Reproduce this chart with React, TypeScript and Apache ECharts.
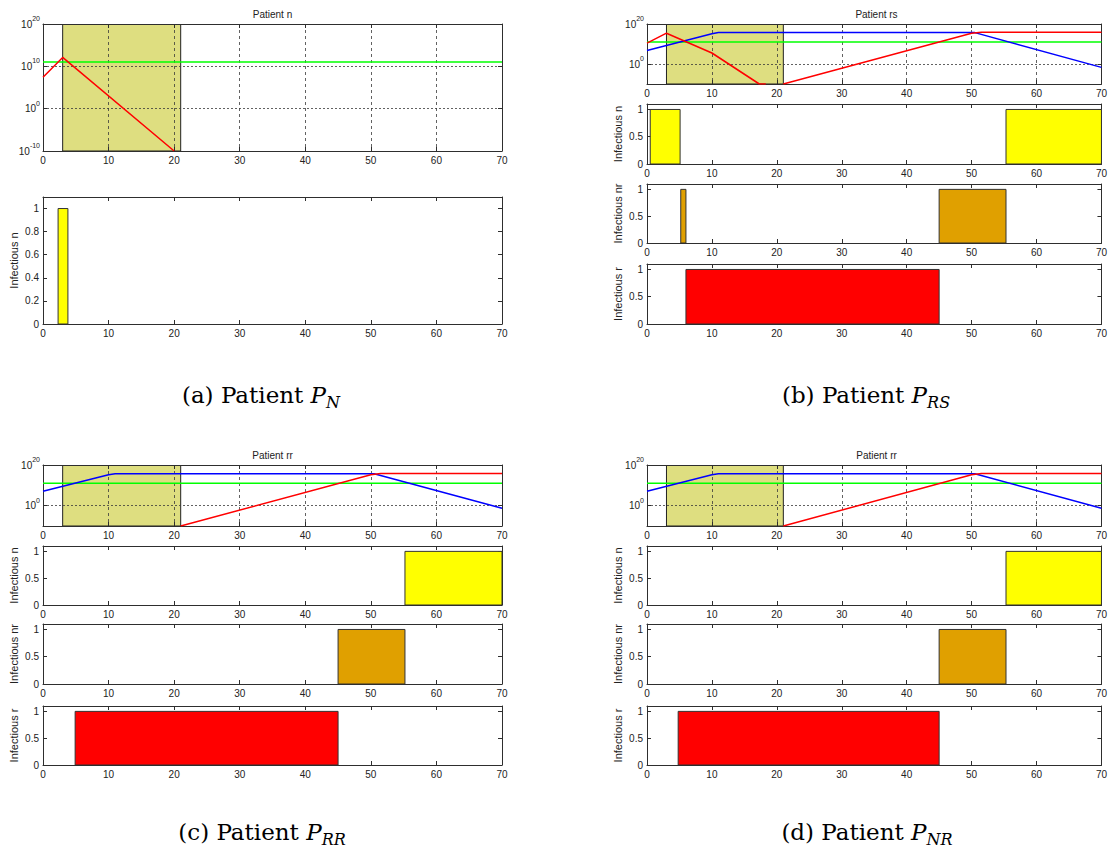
import React, { useEffect, useRef } from "react";
import * as echarts from "echarts";

// ---------- data ----------
const X_MIN = 0;
const X_MAX = 70;
const X_STEP = 10;
// treatment window (shaded)
const treatmentWindow: [number, number][] = [[3, 21]];
// thresholds / curves as log10 exponents of the quantity
const greenLevelLog = 11;

// (a) Patient n
const aTitle = "Patient n";
const aRedLog: (number | null)[][] = [[0, 7.4], [3, 12.1], [20, -10]];
const aBarsN: number[][] = [[2.3, 3.8, 1]];

// (b) Patient rs
const bTitle = "Patient rs";
const bRedLog: (number | null)[][] = [
  [0, 10.4], [3, 15.4], [10, 5.5], [17.3, -10], [18.3, -10], [19.5, null],
  [21, -10], [50, 15.4], [51.5, 15.9], [70, 15.9],
];
const bBlueLog: (number | null)[][] = [[0, 6.8], [10, 15.1], [11, 15.7], [50.5, 15.7], [70, -1.7]];
const bBarsN: number[][] = [[0.5, 5.1, 1], [55.3, 70, 1]];
const bBarsNR: number[][] = [[5.2, 6.0, 1], [45, 55.3, 1]];
const bBarsR: number[][] = [[6.0, 45, 1]];

// (c) Patient rr
const cTitle = "Patient rr";
const cRedLog: (number | null)[][] = [[21, -10], [50, 15.2], [51.5, 15.8], [70, 15.8]];
const cBlueLog: (number | null)[][] = [[0, 7.1], [10, 15.2], [11, 15.7], [50.5, 15.7], [70, -1.3]];
const cBarsN: number[][] = [[55.2, 70, 1]];
const cBarsNR: number[][] = [[45, 55.2, 1]];
const cBarsR: number[][] = [[4.9, 45, 1]];

// (d) Patient rr (P_NR)
const dTitle = "Patient rr";
const dRedLog: (number | null)[][] = [[21, -10], [50, 15.2], [51.5, 15.8], [70, 15.8]];
const dBlueLog: (number | null)[][] = [[0, 7.1], [10, 15.2], [11, 15.7], [50.5, 15.7], [70, -1.3]];
const dBarsN: number[][] = [[55.3, 70, 1]];
const dBarsNR: number[][] = [[45, 55.3, 1]];
const dBarsR: number[][] = [[4.8, 45, 1]];

const logTicksFull = [-10, 0, 10, 20];
const logTicksShort = [0, 20];

const captions = [
  { label: "(a)", sub: "N" },
  { label: "(b)", sub: "RS" },
  { label: "(c)", sub: "RR" },
  { label: "(d)", sub: "NR" },
];

// ---------- styles ----------
const FONT = "'Liberation Sans', Arial, sans-serif";
const SERIF = "'DejaVu Serif', serif";
const AXIS = "#2e2e2e";
const LABEL = "#222";
const SHADE = "#dede80";
const C_RED = "#ff0000";
const C_BLUE = "#0000ff";
const C_GREEN = "#00ff00";
const C_N = "#ffff00";
const C_NR = "#e0a000";
const C_R = "#ff0000";

type Rect = { left: number; top: number; width: number; height: number };

function buildOption() {
  const grid: any[] = [];
  const xAxis: any[] = [];
  const yAxis: any[] = [];
  const series: any[] = [];
  const graphic: any[] = [];

  const axisLine = { show: true, onZero: false, lineStyle: { color: AXIS, width: 1 } };
  const tick = { show: true, inside: true, length: 4, lineStyle: { color: AXIS, width: 1 } };
  const labelBase = { fontFamily: FONT, fontSize: 10, color: LABEL };

  const addGrid = (rect: Rect, yLeft: any, yMirror: any, xGrid: boolean) => {
    const gi = grid.length;
    grid.push({ ...rect, show: false });
    xAxis.push({
      gridIndex: gi, type: "value", position: "bottom", min: X_MIN, max: X_MAX, interval: X_STEP,
      axisLine, axisTick: tick,
      axisLabel: { ...labelBase, margin: 4 },
      splitLine: xGrid
        ? { show: true, lineStyle: { color: "#3a3a3a", type: [3, 3], width: 0.8 } }
        : { show: false },
    });
    xAxis.push({
      gridIndex: gi, type: "value", position: "top", min: X_MIN, max: X_MAX, interval: X_STEP,
      axisLine, axisTick: tick, axisLabel: { show: false }, splitLine: { show: false },
    });
    yAxis.push({ gridIndex: gi, type: "value", position: "left", axisLine, ...yLeft });
    yAxis.push({
      gridIndex: gi, type: "value", position: "right", axisLine,
      axisLabel: { show: false }, splitLine: { show: false }, ...yMirror,
    });
    return gi;
  };

  const logRich = {
    b: { ...labelBase, lineHeight: 12 },
    s: { ...labelBase, fontSize: 7, lineHeight: 8, padding: [0, 0, 11, 0] },
  };

  const addLogPanel = (
    rect: Rect, title: string, red: (number | null)[][], blue: (number | null)[][] | null, full: boolean
  ) => {
    const ticks = full ? logTicksFull : logTicksShort;
    const yBase = { min: -10, max: 20, interval: 10 };
    const gi = addGrid(
      rect,
      {
        ...yBase,
        axisTick: { ...tick, customValues: ticks },
        axisLabel: {
          customValues: ticks,
          margin: 3,
          formatter: (v: number) => `{b|10}{s|${v}}`,
          rich: logRich,
        },
        splitLine: { show: true, lineStyle: { color: "#3a3a3a", type: [2, 2], width: 0.8 } },
      },
      { ...yBase, axisTick: { ...tick, customValues: ticks } },
      true
    );
    const xi = gi * 2;
    series.push({
      type: "custom", xAxisIndex: xi, yAxisIndex: xi, z: -1, clip: true,
      data: treatmentWindow,
      encode: { x: [0, 1] },
      renderItem: (params: any, api: any) => {
        const cs = params.coordSys;
        const p0 = api.coord([api.value(0), -10]);
        const p1 = api.coord([api.value(1), 20]);
        return {
          type: "rect",
          shape: { x: p0[0], y: cs.y, width: p1[0] - p0[0], height: cs.height },
          style: { fill: SHADE, stroke: "#222", lineWidth: 1 },
        };
      },
    });
    series.push({
      type: "line", xAxisIndex: xi, yAxisIndex: xi, showSymbol: false, clip: true,
      data: [[X_MIN, greenLevelLog], [X_MAX, greenLevelLog]],
      lineStyle: { color: C_GREEN, width: 1.5 },
    });
    if (blue) {
      series.push({
        type: "line", xAxisIndex: xi, yAxisIndex: xi, showSymbol: false, clip: true,
        data: blue, lineStyle: { color: C_BLUE, width: 1.5 },
      });
    }
    series.push({
      type: "line", xAxisIndex: xi, yAxisIndex: xi, showSymbol: false, clip: true,
      connectNulls: false, data: red, lineStyle: { color: C_RED, width: 1.5 },
    });
    graphic.push({
      type: "text", x: rect.left + rect.width / 2, y: rect.top - 10,
      style: { text: title, fontFamily: FONT, fontSize: 10, fill: LABEL, align: "center", verticalAlign: "middle" },
    });
  };

  const addBarPanel = (rect: Rect, name: string, bars: number[][], color: string, step: number) => {
    const yBase = { min: 0, max: 1.1, interval: step };
    const gi = addGrid(
      rect,
      {
        ...yBase,
        axisTick: tick,
        axisLabel: {
          ...labelBase, margin: 4,
          formatter: (v: number) => (v > 1.05 ? "" : String(Math.round(v * 10) / 10)),
        },
        splitLine: { show: false },
        name, nameLocation: "middle", nameGap: 24, nameRotate: 90,
        nameTextStyle: { fontFamily: FONT, fontSize: 11, color: LABEL },
      },
      { ...yBase, axisTick: tick },
      false
    );
    const xi = gi * 2;
    series.push({
      type: "custom", xAxisIndex: xi, yAxisIndex: xi, clip: true,
      data: bars,
      encode: { x: [0, 1], y: 2 },
      renderItem: (_params: any, api: any) => {
        const p0 = api.coord([api.value(0), 0]);
        const p1 = api.coord([api.value(1), api.value(2)]);
        return {
          type: "rect",
          shape: { x: p0[0], y: p1[1], width: p1[0] - p0[0], height: p0[1] - p1[1] },
          style: { fill: color, stroke: "#333", lineWidth: 1 },
        };
      },
    });
  };

  // layout
  const W = 459;
  const LX = 43;
  const RX = 647;

  // (a)
  addLogPanel({ left: LX, top: 24, width: W, height: 127 }, aTitle, aRedLog, null, true);
  addBarPanel({ left: LX, top: 197, width: W, height: 127 }, "Infectious n", aBarsN, C_N, 0.2);

  // (b)
  addLogPanel({ left: RX, top: 24, width: W, height: 60 }, bTitle, bRedLog, bBlueLog, false);
  addBarPanel({ left: RX, top: 104, width: W, height: 60 }, "Infectious n", bBarsN, C_N, 0.5);
  addBarPanel({ left: RX, top: 184, width: W, height: 59 }, "Infectious nr", bBarsNR, C_NR, 0.5);
  addBarPanel({ left: RX, top: 264, width: W, height: 60 }, "Infectious r", bBarsR, C_R, 0.5);

  // (c)
  addLogPanel({ left: LX, top: 465, width: W, height: 61 }, cTitle, cRedLog, cBlueLog, false);
  addBarPanel({ left: LX, top: 546, width: W, height: 59 }, "Infectious n", cBarsN, C_N, 0.5);
  addBarPanel({ left: LX, top: 624, width: W, height: 60 }, "Infectious nr", cBarsNR, C_NR, 0.5);
  addBarPanel({ left: LX, top: 706, width: W, height: 59 }, "Infectious r", cBarsR, C_R, 0.5);

  // (d)
  addLogPanel({ left: RX, top: 465, width: W, height: 61 }, dTitle, dRedLog, dBlueLog, false);
  addBarPanel({ left: RX, top: 546, width: W, height: 59 }, "Infectious n", dBarsN, C_N, 0.5);
  addBarPanel({ left: RX, top: 624, width: W, height: 60 }, "Infectious nr", dBarsNR, C_NR, 0.5);
  addBarPanel({ left: RX, top: 706, width: W, height: 59 }, "Infectious r", dBarsR, C_R, 0.5);

  // captions
  const capPos = [[261, 395], [866, 395], [262, 832], [867, 832]];
  const capRich = {
    m: { fontFamily: SERIF, fontSize: 23, lineHeight: 30, fill: "#000" },
    i: { fontFamily: SERIF, fontSize: 23, lineHeight: 30, fontStyle: "italic", fill: "#000" },
    sub: { fontFamily: SERIF, fontSize: 16, lineHeight: 16, fontStyle: "italic", verticalAlign: "bottom", fill: "#000" },
  };
  captions.forEach((c, k) => {
    graphic.push({
      type: "text", x: capPos[k][0], y: capPos[k][1],
      style: {
        text: `{m|${c.label} Patient }{i|P}{sub|${c.sub}}`,
        rich: capRich, align: "center", verticalAlign: "middle",
      },
    });
  });

  return {
    animation: false,
    backgroundColor: "#ffffff",
    grid, xAxis, yAxis, series, graphic,
  };
}

export default function App() {
  const ref = useRef<HTMLDivElement>(null);
  useEffect(() => {
    if (!ref.current) return;
    const chart = echarts.init(ref.current, undefined, { renderer: "svg" });
    chart.setOption(buildOption() as any);
    return () => chart.dispose();
  }, []);
  return (
    <div
      ref={ref}
      style={{ position: "absolute", left: 0, top: 0, width: 1110, height: 857, background: "#fff" }}
    />
  );
}
